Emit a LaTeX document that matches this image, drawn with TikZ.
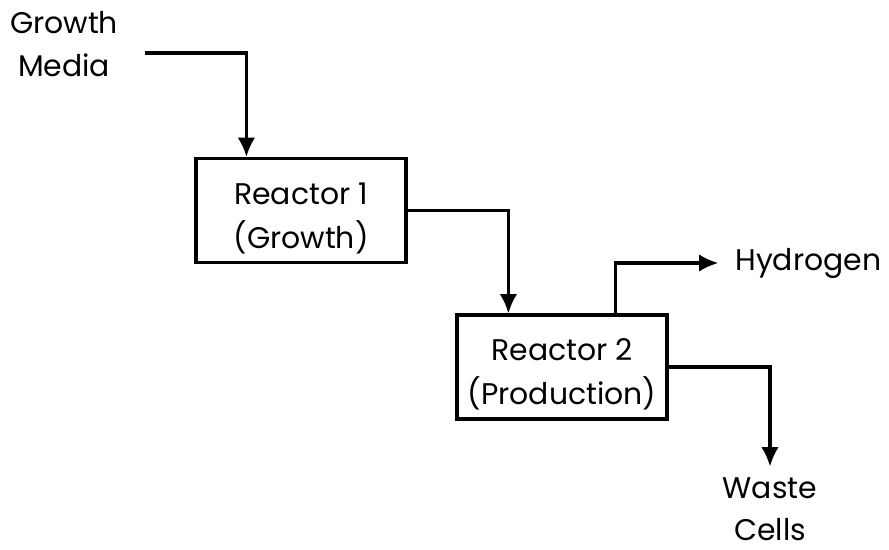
\documentclass[tikz,border=0pt]{standalone}
\usepackage{fontspec}
\setmainfont{Poppins}
\usetikzlibrary{calc, arrows.meta}

\begin{document}
\begin{tikzpicture}[line width=1.8pt,
  reactor/.style={draw, minimum width=4.2cm, minimum height=2.08cm,
    inner ysep=1pt, align=center, font=\fontsize{17}{25}\selectfont},
  label/.style={align=center, font=\fontsize{17}{24}\selectfont},
  flow/.style={-{Latex[length=11pt,width=10pt]}}]
  \useasboundingbox (0,0) rectangle (17.78,-11);

  % the two reactors (strut on first line pushes text down a bit)
  \node[reactor] (r1) at (6.02,-4.21) {\rule{0pt}{21pt}Reactor 1\\(Growth)};
  \node[reactor] (r2) at (11.24,-7.34) {\rule{0pt}{21pt}Reactor 2\\(Production)};

  % inlet and outlets
  \node[label] (media) at (1.28,-0.88) {Growth\\Media};
  \node[label, anchor=west] (h2) at (14.56,-5.26) {Hydrogen};
  \node[label, anchor=north] (waste) at (15.4,-9.4) {Waste\\Cells};

  \coordinate (in) at (2.9,-1.06);
  \coordinate (r1in) at ($(r1.north west)+(1.04,0)$);
  \coordinate (r2in) at ($(r2.north west)+(1.06,0)$);
  \coordinate (r2up) at ($(r2.north east)+(-1.06,0)$);

  \draw[flow] (in) -| (r1in);
  \draw[flow] (r1.east) -| (r2in);
  \draw[flow, shorten >=5.5pt] (r2up) |- (h2.west);
  \draw[flow] (r2.east) -| ([yshift=2pt]waste.north);
\end{tikzpicture}
\end{document}
